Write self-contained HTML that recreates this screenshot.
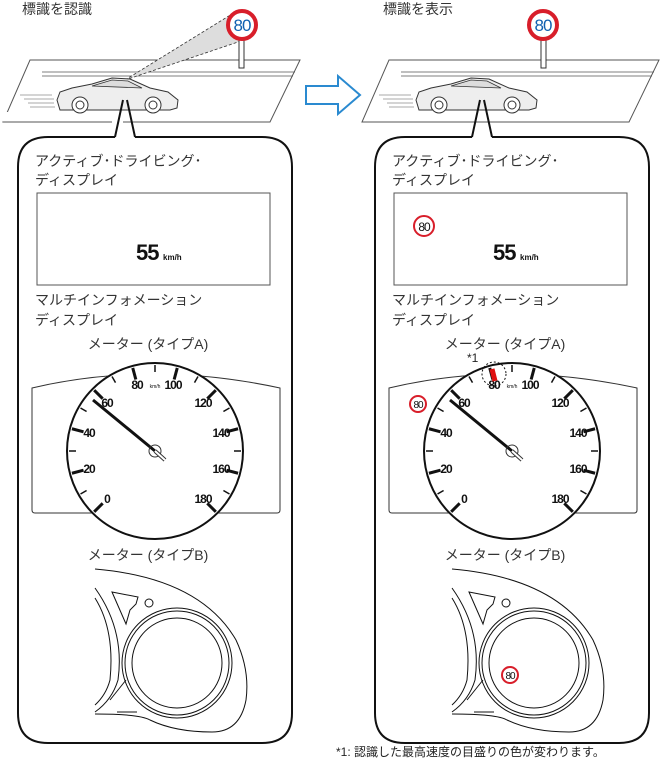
<!DOCTYPE html>
<html><head><meta charset="utf-8"><style>
body{margin:0;background:#fff}
svg{display:block;font-family:"Liberation Sans","Noto Sans CJK JP",sans-serif}
.j{font-size:14px;fill:#333}
.n{font-size:12px;font-weight:bold;fill:#111;text-anchor:middle;dominant-baseline:central;letter-spacing:-1px}
</style></head><body>
<svg width="664" height="766" viewBox="0 0 664 766">
<defs>
<g id="car">
<path d="M57,100 L60,92 L72,88 L92,84 L112,78 L130,79 L150,88 L168,92 L178,100 L177,108 L170,110 L60,110 Z" fill="#eee" stroke="#333" stroke-width="1"/>
<path d="M92,86 L112,80 L128,81 L142,88 Z" fill="#ddd" stroke="#333" stroke-width="0.8"/>
<circle cx="80" cy="105" r="8" fill="#fff" stroke="#333"/><circle cx="80" cy="105" r="4" fill="none" stroke="#333"/>
<circle cx="153" cy="105" r="8" fill="#fff" stroke="#333"/><circle cx="153" cy="105" r="4" fill="none" stroke="#333"/>
<path d="M20,95 H52 M24,99 H54 M28,103 H54 M30,107 H55" stroke="#aaa" stroke-width="1"/>
</g>
<g id="gauge">
<path d="M32,388 Q150,360 280,388 V510 Q280,513 277,513 H35 Q32,513 32,510 Z" fill="#fff" stroke="#333" stroke-width="1"/>
<circle cx="155" cy="451" r="88" fill="#fff" stroke="#111" stroke-width="2"/>
<g class="ticks"></g>
<text class="n" x="107" y="499">0</text>
<text class="n" x="89" y="469">20</text>
<text class="n" x="89" y="433">40</text>
<text class="n" x="107" y="403">60</text>
<text class="n" x="137" y="385">80</text>
<text class="n" x="173" y="385">100</text>
<text class="n" x="203" y="403">120</text>
<text class="n" x="221" y="433">140</text>
<text class="n" x="221" y="469">160</text>
<text class="n" x="203" y="499">180</text>
<text x="155" y="388" font-size="5" text-anchor="middle" fill="#111">km/h</text>
<line x1="93" y1="400" x2="155" y2="451" stroke="#111" stroke-width="3"/>
<circle cx="155" cy="451" r="6" fill="none" stroke="#333"/>
<line x1="155" y1="451" x2="165" y2="460" stroke="#333" stroke-width="4"/>
<line x1="155" y1="451" x2="165" y2="460" stroke="#fff" stroke-width="2"/>
</g>
<g id="typeb" fill="none" stroke="#111" stroke-width="1">
<path d="M95,569 Q200,578 236,640 Q250,670 246,700 Q240,732 212,732 Q175,732 150,720 Q140,714 95,714"/>
<path d="M95,588 Q125,630 118,680 Q112,700 95,712"/>
<path d="M95,598 Q115,630 110,680 Q106,695 95,705"/>
<path d="M112,592 L138,597 L136,604 L130,610 L126,624 Z"/>
<circle cx="149" cy="603" r="4"/>
<circle cx="177" cy="663" r="55"/>
<circle cx="177" cy="663" r="52"/>
<circle cx="177" cy="663" r="45"/>
<path d="M126,680 L110,700 M117,712 L137,712"/>
</g>
<g id="panel">
<path d="M115,137 H48 Q18,137 18,167 V713 Q18,743 48,743 H262 Q292,743 292,713 V167 Q292,137 262,137 H135" fill="#fff" stroke="#111" stroke-width="2"/>
<path d="M115,137 L123,100 M135,137 L127,100" stroke="#111" stroke-width="2" fill="none"/>
<text class="j" x="35" y="166">アクティブ･ドライビング･</text>
<text class="j" x="35" y="185">ディスプレイ</text>
<rect x="37" y="193" width="233" height="92" fill="#fff" stroke="#555"/>
<text x="136" y="260" font-size="22" font-weight="bold" fill="#111" letter-spacing="-1">55</text>
<text x="163" y="260" font-size="8" font-weight="bold" fill="#111">km/h</text>
<text class="j" x="35" y="305">マルチインフォメーション</text>
<text class="j" x="35" y="325">ディスプレイ</text>
<text class="j" x="148" y="349" text-anchor="middle">メーター (タイプA)</text>
<use href="#gauge"/>
<text class="j" x="148" y="560" text-anchor="middle">メーター (タイプB)</text>
<use href="#typeb"/>
</g>
</defs>

<text class="j" x="22" y="14">標識を認識</text>
<path d="M30,60 H300 L270,122 H3 Z" fill="#fff" stroke="#555"/>
<path d="M42,72 H295 M42,76 H293" stroke="#555" stroke-width="0.8"/>
<polygon points="125,80 232,14 250,38" fill="#ddd" stroke="#333" stroke-dasharray="3,2" stroke-width="0.8"/>
<rect x="239" y="40" width="5" height="28" fill="#fff" stroke="#333"/>
<circle cx="242" cy="25" r="14" fill="#fff" stroke="#d81e2a" stroke-width="4"/>
<text x="242" y="31" font-size="17" fill="#1060b0" text-anchor="middle" letter-spacing="-1">80</text>
<rect x="3" y="112" width="120" height="12" fill="#fff" stroke="none"/>
<path d="M3,122 H112 M135,122 H270" stroke="#555"/>
<use href="#car"/>

<path d="M306,86 H338 V76 L360,95 L338,114 V104 H306 Z" fill="#fff" stroke="#2a8ad0" stroke-width="2"/>

<text class="j" x="383" y="14">標識を表示</text>
<path d="M389,60 H659 L629,122 H362 Z" fill="#fff" stroke="#555"/>
<path d="M401,72 H654 M401,76 H652" stroke="#555" stroke-width="0.8"/>
<rect x="541" y="40" width="5" height="28" fill="#fff" stroke="#333"/>
<circle cx="543" cy="25" r="14" fill="#fff" stroke="#d81e2a" stroke-width="4"/>
<text x="543" y="31" font-size="17" fill="#1060b0" text-anchor="middle" letter-spacing="-1">80</text>
<g transform="translate(359,0)"><use href="#car"/></g>

<use href="#panel"/>
<g transform="translate(357,0)">
<use href="#panel"/>
<circle cx="67" cy="226" r="10" fill="#fff" stroke="#d81e2a" stroke-width="2"/>
<text x="67" y="231" font-size="12" fill="#111" text-anchor="middle" letter-spacing="-1">80</text>
<circle cx="61" cy="404" r="8" fill="#fff" stroke="#d81e2a" stroke-width="2"/>
<text x="61" y="408" font-size="10" fill="#111" text-anchor="middle" letter-spacing="-1">80</text>
<line x1="135" y1="369" x2="138" y2="381" stroke="#e01010" stroke-width="5"/>
<circle cx="137" cy="374" r="12" fill="none" stroke="#111" stroke-dasharray="2,2"/>
<text x="110" y="362" font-size="12" fill="#222">*1</text>
<circle cx="153" cy="675" r="8" fill="#fff" stroke="#d81e2a" stroke-width="2"/>
<text x="153" y="679" font-size="10" fill="#111" text-anchor="middle" letter-spacing="-1">80</text>
</g>

<text x="336" y="756" font-size="12" fill="#222">*1: 認識した最高速度の目盛りの色が変わります。</text>
</svg>
<script>
document.querySelectorAll('#gauge .ticks').forEach(function(g){
 var ns='http://www.w3.org/2000/svg',cx=155,cy=451;
 for(var i=0;i<=18;i++){
  var a=(-135+i*15)*Math.PI/180,maj=i%2==0,r1=maj?74:79,r2=86;
  var l=document.createElementNS(ns,'line');
  l.setAttribute('x1',cx+r1*Math.sin(a));l.setAttribute('y1',cy-r1*Math.cos(a));
  l.setAttribute('x2',cx+r2*Math.sin(a));l.setAttribute('y2',cy-r2*Math.cos(a));
  l.setAttribute('stroke','#111');l.setAttribute('stroke-width',maj?3:1.5);
  g.appendChild(l);
 }
});
</script>
</body></html>
